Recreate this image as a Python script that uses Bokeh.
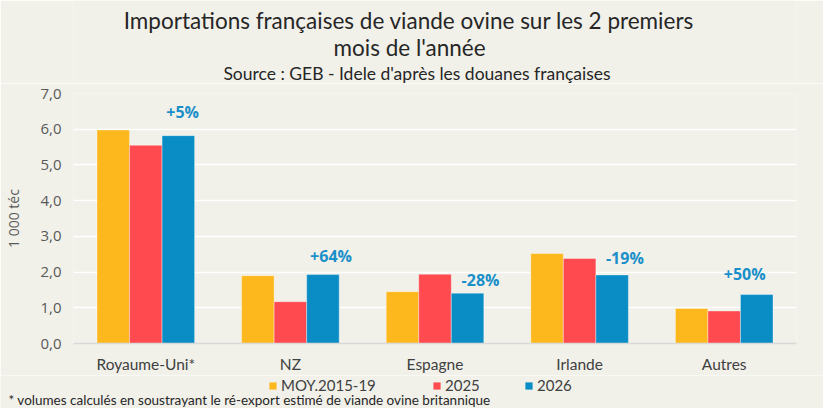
from bokeh.plotting import figure
from bokeh.layouts import column, row
from bokeh.models import (FactorRange, Range1d, FixedTicker, Label, Legend, LegendItem,
                          ColumnDataSource)
from bokeh.transform import dodge
from bokeh.embed import file_html
from bokeh.resources import INLINE

# ---- data ----
categories = ["Royaume-Uni*", "NZ", "Espagne", "Irlande", "Autres"]
series_names = ["MOY.2015-19", "2025", "2026"]
moy_2015_19 = [5.98, 1.90, 1.45, 2.52, 0.98]
val_2025 = [5.55, 1.17, 1.94, 2.38, 0.91]
val_2026 = [5.82, 1.93, 1.41, 1.92, 1.37]
change_labels = ["+5%", "+64%", "-28%", "-19%", "+50%"]
y_ticks = [0, 1, 2, 3, 4, 5, 6, 7]
y_tick_labels = ["0,0", "1,0", "2,0", "3,0", "4,0", "5,0", "6,0", "7,0"]

# annotation placement (data units of the chart)
change_dx = [0.03, 0.056, 0.09, 0.088, -0.083]
change_y = [6.49, 2.46, 1.77, 2.39, 1.95]

COLORS = ["#FDB81E", "#FF4A50", "#0A8DC5"]
BG = "#F1F1EA"
FONT = "Lato"
TXT = "#404040"
DARK = "#262626"
W = 823
LB, RB = 73, 27          # left / right borders (px)
TOP_H = 83
BOT_H = 33
MAIN_H = 408 - TOP_H - BOT_H


def styled(f):
    f.background_fill_color = BG
    f.border_fill_color = BG
    f.outline_line_color = None
    return f


# ---- top: titles ----
top = styled(figure(width=W, height=TOP_H, x_range=Range1d(LB, W - RB), y_range=Range1d(TOP_H, 0),
                    output_backend="svg", toolbar_location=None, title=None,
                    x_axis_type=None, y_axis_type=None,
                    min_border_left=LB, min_border_right=RB, min_border_top=0, min_border_bottom=0))
top.grid.visible = False
top.add_layout(Label(x=408.5, y=20, text="Importations françaises de viande ovine sur les 2 premiers",
                     text_align="center", text_baseline="middle", text_font=FONT,
                     text_font_size="22.5px", text_color=DARK))
top.add_layout(Label(x=409, y=47, text="mois de l'année",
                     text_align="center", text_baseline="middle", text_font=FONT,
                     text_font_size="22.5px", text_color=DARK))
top.add_layout(Label(x=416.5, y=73, text="Source : GEB - Idele d'après les douanes françaises",
                     text_align="center", text_baseline="middle", text_font=FONT,
                     text_font_size="17.5px", text_color=DARK))

# ---- main chart ----
p = styled(figure(x_range=FactorRange(*categories, range_padding=0), y_range=Range1d(0, 7),
                  width=W, height=MAIN_H, output_backend="svg", toolbar_location=None, title=None,
                  min_border_left=LB, min_border_right=RB, min_border_top=10, min_border_bottom=31))

src = ColumnDataSource(dict(cat=categories, a=moy_2015_19, b=val_2025, c=val_2026))
bw = 0.225
for col, off, colr in zip(["a", "b", "c"], [-bw, 0, bw], COLORS):
    p.vbar(x=dodge("cat", off, range=p.x_range), top=col, width=bw, source=src,
           fill_color=colr, line_color="white", line_width=0.6, line_alpha=0.6)

for ax in (p.xaxis, p.yaxis):
    ax.major_tick_line_color = None
    ax.minor_tick_line_color = None
    ax.major_tick_out = 0
    ax.major_tick_in = 0
    ax.minor_tick_out = 0
    ax.minor_tick_in = 0

p.yaxis.ticker = FixedTicker(ticks=y_ticks)
p.yaxis.major_label_overrides = {t: l for t, l in zip(y_ticks, y_tick_labels)}
p.yaxis.axis_line_color = None
p.yaxis.major_label_text_font = "Open Sans"
p.yaxis.major_label_text_font_size = "15px"
p.yaxis.major_label_text_color = "#595959"
p.yaxis.major_label_standoff = 12
p.yaxis.axis_label = "1 000 téc"
p.yaxis.axis_label_text_font = "Open Sans"
p.yaxis.axis_label_text_font_style = "normal"
p.yaxis.axis_label_text_font_size = "14px"
p.yaxis.axis_label_text_color = "#595959"
p.yaxis.axis_label_standoff = 14

p.xaxis.axis_line_color = "#D9D9D9"
p.xaxis.axis_line_width = 1.5
p.xaxis.major_label_text_font = FONT
p.xaxis.major_label_text_font_size = "15.5px"
p.xaxis.major_label_text_color = TXT
p.xaxis.major_label_standoff = 11

p.xgrid.grid_line_color = None
p.ygrid.grid_line_color = "white"
p.ygrid.grid_line_width = 1.5

for i, txt in enumerate(change_labels):
    p.add_layout(Label(x=i + 0.5 + bw + change_dx[i], y=change_y[i], text=txt,
                       text_align="center", text_baseline="middle",
                       text_font="Open Sans", text_font_style="bold",
                       text_font_size="16px", text_color="#1A8FC9"))

# ---- bottom: legend + footnote ----
bot = styled(figure(width=W, height=BOT_H, x_range=Range1d(0, W), y_range=Range1d(BOT_H, 0),
                    output_backend="svg", toolbar_location=None, title=None,
                    x_axis_type=None, y_axis_type=None,
                    min_border=0, min_border_left=0, min_border_right=0,
                    min_border_top=0, min_border_bottom=0))
bot.grid.visible = False
leg_x = [268, 432, 524]
for name, col, colr, lx in zip(series_names, ["a", "b", "c"], COLORS, leg_x):
    # zero-width bars: only used as legend swatches
    r = bot.vbar(x=col, top=col, width=0, source=src, fill_color=colr, line_color=None)
    bot.add_layout(Legend(items=[LegendItem(label=name, renderers=[r])], location=(lx, 14),
                          orientation="horizontal", background_fill_alpha=0, border_line_color=None,
                          padding=0, margin=0, glyph_width=9, glyph_height=9, label_standoff=4,
                          label_height=16, label_text_font=FONT, label_text_font_size="15px",
                          label_text_color=TXT))
bot.add_layout(Label(x=8, y=BOT_H - 9,
                     text="* volumes calculés en soustrayant le ré-export estimé de viande ovine britannique",
                     text_align="left", text_baseline="middle", text_font=FONT,
                     text_font_size="13.5px", text_color=DARK))

layout = column(top, p, row(bot), spacing=0)
html = file_html(layout, INLINE)
html = html.replace("<body>", '<body style="background:%s">' % BG, 1)
open("out.html", "w").write(html)
